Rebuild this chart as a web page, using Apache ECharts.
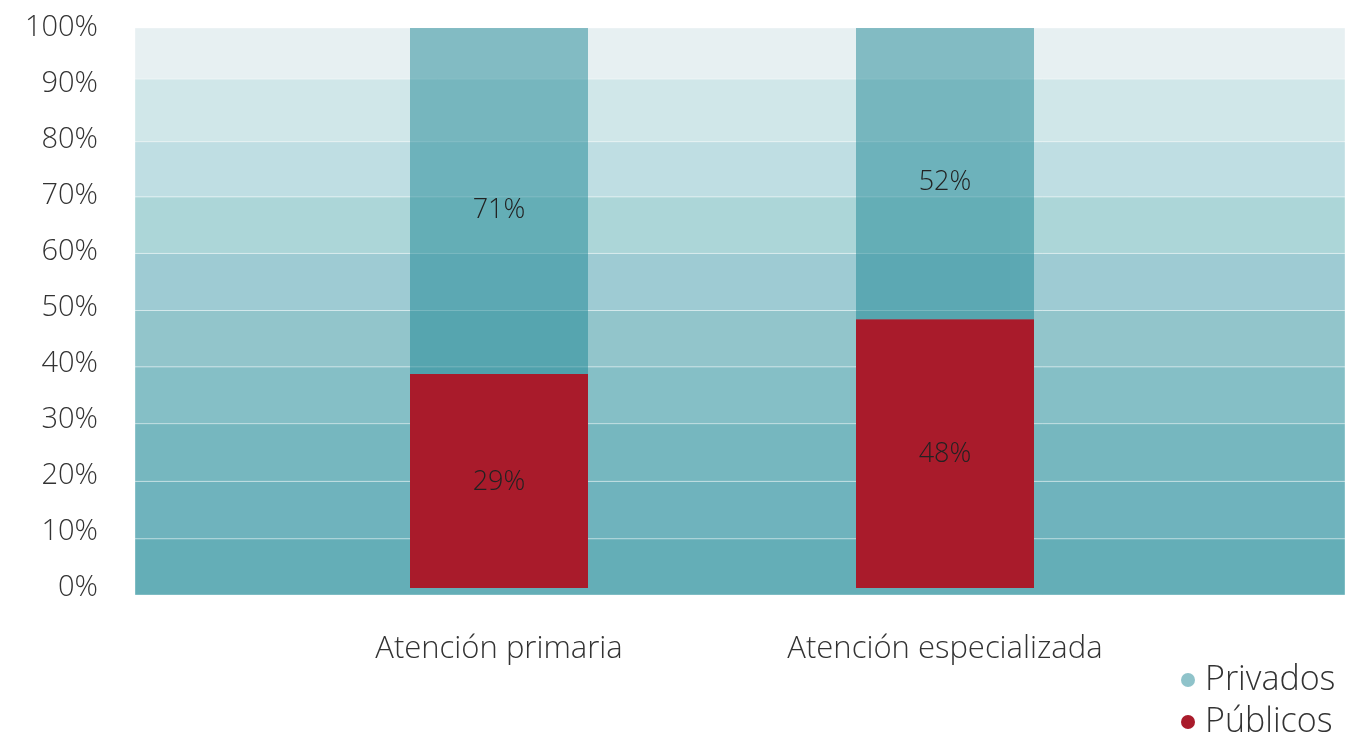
<!DOCTYPE html>
<html>
<head>
<meta charset="utf-8">
<script src="https://cdn.jsdelivr.net/npm/echarts@6/dist/echarts.min.js"></script>
<style>
html,body{margin:0;padding:0;background:#fff;}
#main{width:1345px;height:734px;}
</style>
</head>
<body>
<div id="main"></div>
<script>
// ---- data ----
const categories = ['Atención primaria', 'Atención especializada'];
const publicos = [38.2, 48.0];          // drawn bar heights (%)
const privados = [61.8, 52.0];          // drawn bar heights (%)
const publicosLabels = ['29%', '48%'];  // printed labels
const privadosLabels = ['71%', '52%'];
const yTicks = [0, 10, 20, 30, 40, 50, 60, 70, 80, 90, 100];
// background band edges (axis units)
const bandEdges = [-1.25, 8.8, 19.05, 29.35, 39.5, 49.55, 59.75, 69.85, 79.7, 90.9, 100];

// ---- styles ----
const bandColors = ['#64aeb7', '#6fb3bd', '#76b7bf', '#85bfc6', '#92c5cb',
                    '#9ecbd3', '#acd6d8', '#bfdee3', '#d0e7e9', '#e7f0f2'];
const FONT = '"Open Sans"';
const FW = 300;
const Y_MIN = -1.25, Y_MAX = 100;

const bands = [];
for (let i = 0; i < bandColors.length; i++) {
  bands.push([
    { yAxis: bandEdges[i], itemStyle: { color: bandColors[i] } },
    { yAxis: bandEdges[i + 1] }
  ]);
}

const legendText = { fontFamily: FONT, fontWeight: FW, fontSize: 34, color: '#333', padding: [0, 0, 0, 5] };

const chart = echarts.init(document.getElementById('main'), null, { renderer: 'canvas' });
chart.setOption({
  animation: false,
  textStyle: { fontFamily: FONT },
  grid: [
    { left: 135, right: 0, top: 28, bottom: 139 },
    { left: 276, right: 177, top: 28, bottom: 139 }
  ],
  xAxis: [
    { gridIndex: 0, type: 'value', min: 0, max: 1, show: false },
    {
      gridIndex: 1, type: 'category', data: categories,
      axisLine: { show: false }, axisTick: { show: false },
      axisLabel: { fontFamily: FONT, fontWeight: FW, fontSize: 31, color: '#333', margin: 39 }
    }
  ],
  yAxis: [
    {
      gridIndex: 0, type: 'value', min: Y_MIN, max: Y_MAX,
      axisLine: { show: false }, axisTick: { show: false },
      splitLine: { show: false },
      axisLabel: {
        customValues: yTicks, formatter: '{value}%',
        fontFamily: FONT, fontWeight: FW, fontSize: 29, color: '#333', margin: 37,
        padding: [0, 0, 5, 0]
      }
    },
    { gridIndex: 1, type: 'value', min: Y_MIN, max: Y_MAX, show: false }
  ],
  legend: [
    {
      orient: 'vertical', left: 1176, top: 658,
      data: ['Privados'], icon: 'circle', itemWidth: 14, itemHeight: 14,
      textStyle: legendText
    },
    {
      orient: 'vertical', left: 1176, top: 700,
      data: ['Públicos'], icon: 'circle', itemWidth: 14, itemHeight: 14,
      textStyle: legendText
    }
  ],
  series: [
    {
      name: 'bg', type: 'line', xAxisIndex: 0, yAxisIndex: 0, data: [],
      silent: true, z: 0,
      markArea: {
        silent: true,
        itemStyle: { borderColor: 'rgba(255,255,255,0.35)', borderWidth: 1 },
        data: bands
      }
    },
    {
      name: 'Públicos', type: 'bar', stack: 'total', xAxisIndex: 1, yAxisIndex: 1,
      data: publicos, barWidth: 178, z: 3,
      itemStyle: { color: '#a91b2b' },
      label: {
        show: true, position: 'inside', offset: [0, 1],
        formatter: p => publicosLabels[p.dataIndex],
        fontFamily: FONT, fontWeight: FW, fontSize: 27, color: '#222'
      }
    },
    {
      name: 'Privados', type: 'bar', stack: 'total', xAxisIndex: 1, yAxisIndex: 1,
      data: privados, barWidth: 178, z: 3,
      itemStyle: { color: 'rgba(20,130,145,0.48)' },
      label: {
        show: true, position: 'inside', offset: [0, 9],
        formatter: p => privadosLabels[p.dataIndex],
        fontFamily: FONT, fontWeight: FW, fontSize: 27, color: '#222'
      }
    }
  ]
});
</script>
</body>
</html>
